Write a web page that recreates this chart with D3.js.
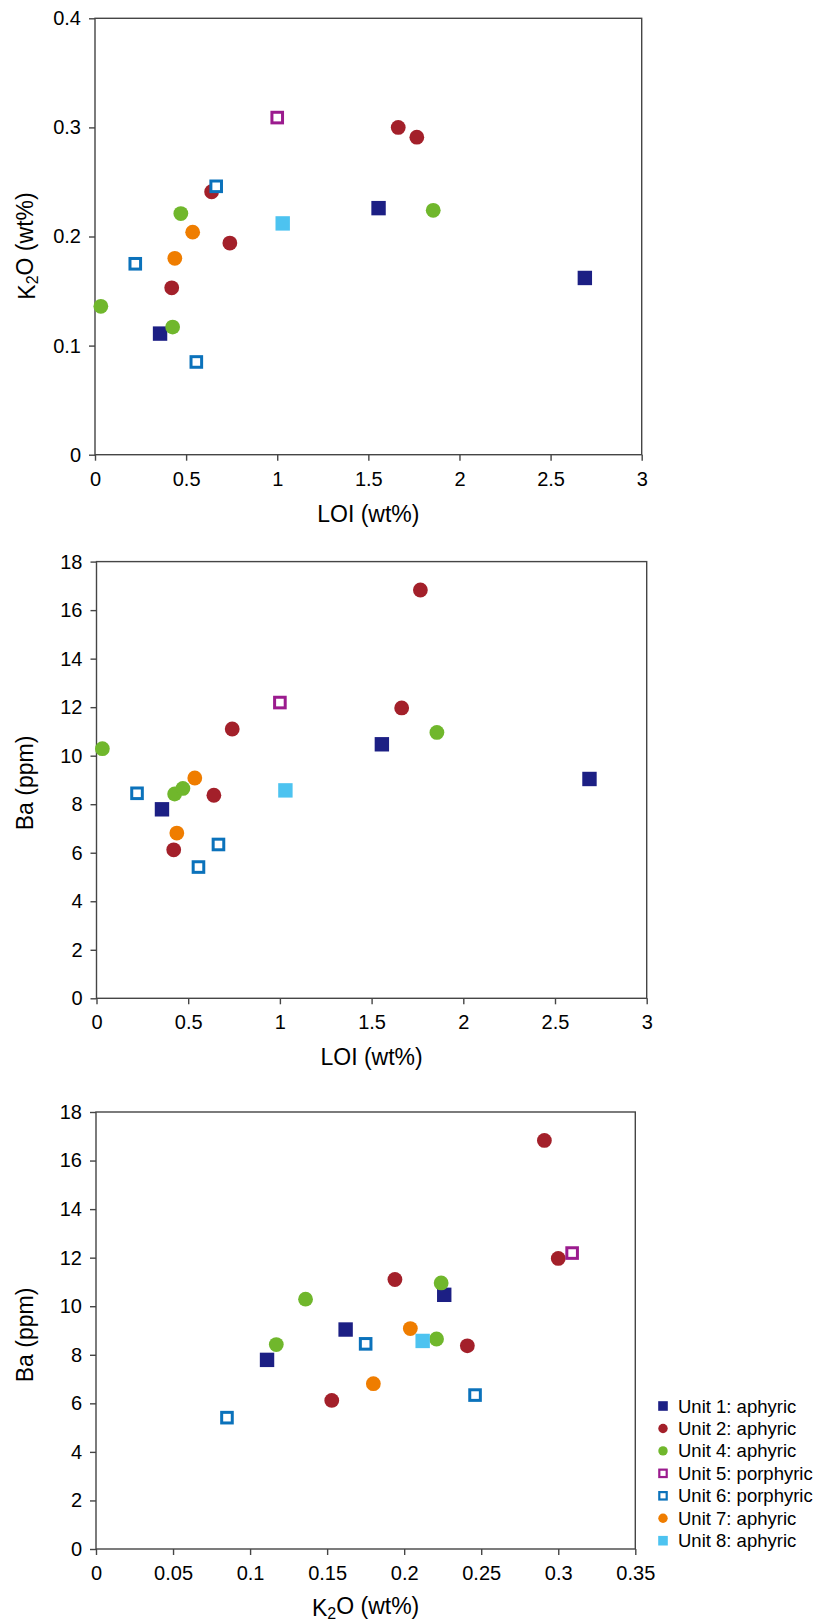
<!DOCTYPE html>
<html>
<head>
<meta charset="utf-8">
<script src="https://cdn.jsdelivr.net/npm/d3@7"></script>
<style>
  body { margin: 0; background: #fff; }
  svg text { font-family: "Liberation Sans", Arial, sans-serif; fill: #000; }
</style>
</head>
<body>
<div id="chart"></div>
<script>
// units (legend order) and how each is drawn
var units = ["Unit 1: aphyric", "Unit 2: aphyric", "Unit 4: aphyric", "Unit 5: porphyric",
             "Unit 6: porphyric", "Unit 7: aphyric", "Unit 8: aphyric"];
var unitColors = ["#1c1f84", "#a3202a", "#70b72c", "#9b1b8e", "#0b72bb", "#ef7d00", "#4dc3f0"];
var unitShapes = ["square", "circle", "circle", "hollow", "hollow", "circle", "square"];

// one entry per sample
var sampleUnit = [0, 0, 0, 1, 1, 1, 1, 1, 2, 2, 2, 2, 3, 4, 4, 4, 5, 5, 6];
var sampleLoi = [0.357, 1.556, 2.688, 0.421, 0.640, 0.740, 1.664, 1.766,
                 0.032, 0.426, 0.471, 1.856, 1.000, 0.221, 0.556, 0.665, 0.438, 0.536, 1.030];
var sampleK2O = [0.111, 0.226, 0.162, 0.153, 0.241, 0.194, 0.300, 0.291,
                 0.136, 0.117, 0.221, 0.224, 0.309, 0.175, 0.085, 0.246, 0.180, 0.204, 0.212];
var sampleBa = [7.79, 10.47, 9.04, 6.12, 8.37, 11.10, 11.97, 16.83,
                10.29, 8.42, 8.65, 10.96, 12.19, 8.45, 5.41, 6.34, 6.81, 9.08, 8.57];

// tick values
var loiTicks = [0, 0.5, 1, 1.5, 2, 2.5, 3];
var k2oTicksLong = [0, 0.1, 0.2, 0.3, 0.4];
var k2oTicksShort = [0, 0.05, 0.1, 0.15, 0.2, 0.25, 0.3, 0.35];
var baTicks = [0, 2, 4, 6, 8, 10, 12, 14, 16, 18];

var svgWidth = 817;
var svgHeight = 1623;
var axisColor = "#454545";

var svg = d3.select("#chart")
  .append("svg")
  .attr("width", svgWidth)
  .attr("height", svgHeight);

var data = sampleUnit.map(function(u, i) {
  return { unit: u, loi: sampleLoi[i], k2o: sampleK2O[i], ba: sampleBa[i] };
});
// later units drawn on top
data.sort(function(a, b) { return a.unit - b.unit; });

function fmt(d) { return String(+d.toFixed(3)); }

// label with a subscript 2 for K2O
function addTitle(sel, label) {
  if (label === "K2O (wt%)") {
    sel.append("tspan").text("K");
    sel.append("tspan").attr("font-size", "16px").attr("dy", "0.3em").text("2");
    sel.append("tspan").attr("dy", "-0.3em").text("O (wt%)");
  } else {
    sel.text(label);
  }
}

function drawPanel(p) {
  var w = p.right - p.left;
  var h = p.bottom - p.top;
  var g = svg.append("g").attr("transform", `translate(${p.left}, ${p.top})`);

  var x = d3.scaleLinear().domain(p.xDomain).range([0, w]);
  var y = d3.scaleLinear().domain(p.yDomain).range([h, 0]);

  var bottomAxis = d3.axisBottom(x).tickValues(p.xTicks).tickFormat(fmt)
    .tickSize(6).tickPadding(11);
  var leftAxis = d3.axisLeft(y).tickValues(p.yTicks).tickFormat(fmt)
    .tickSize(6).tickPadding(8);

  var xg = g.append("g").attr("transform", `translate(0, ${h})`).call(bottomAxis);
  var yg = g.append("g").call(leftAxis);
  [xg, yg].forEach(function(a) {
    a.select(".domain").remove();
    a.selectAll("line").attr("stroke", axisColor).attr("stroke-width", 1.4);
    a.selectAll("text").attr("font-size", "20px").attr("fill", "#000")
      .style("font-family", '"Liberation Sans", Arial, sans-serif');
  });

  g.append("rect")
    .attr("width", w).attr("height", h)
    .attr("fill", "none")
    .attr("stroke", axisColor)
    .attr("stroke-width", 1.4);

  var pts = g.append("g").selectAll("g")
    .data(data)
    .enter()
    .append("g")
    .attr("transform", d => `translate(${x(d[p.xKey])}, ${y(d[p.yKey])})`);

  pts.each(function(d) {
    var s = d3.select(this);
    var shape = unitShapes[d.unit];
    var c = unitColors[d.unit];
    if (shape === "circle") {
      s.append("circle").attr("r", 7.4).attr("fill", c);
    } else if (shape === "square") {
      s.append("rect").attr("x", -7.2).attr("y", -7.2).attr("width", 14.4).attr("height", 14.4).attr("fill", c);
    } else {
      s.append("rect").attr("x", -5.3).attr("y", -5.3).attr("width", 10.6).attr("height", 10.6)
        .attr("fill", "#fff").attr("stroke", c).attr("stroke-width", 3);
    }
  });

  var xt = g.append("text")
    .attr("x", w / 2)
    .attr("y", h + 59)
    .attr("text-anchor", "middle")
    .attr("dominant-baseline", "central")
    .attr("font-size", "23px");
  addTitle(xt, p.xLabel);

  var yt = g.append("text")
    .attr("transform", `translate(${p.yLabelX - p.left}, ${p.yLabelY - p.top}) rotate(-90)`)
    .attr("text-anchor", "middle")
    .attr("dominant-baseline", "central")
    .attr("font-size", "23px");
  addTitle(yt, p.yLabel);
}

drawPanel({ left: 95, right: 641.7, top: 18.3, bottom: 454.7,
  xDomain: [0, 3], yDomain: [0, 0.4], xTicks: loiTicks, yTicks: k2oTicksLong,
  xKey: "loi", yKey: "k2o", xLabel: "LOI (wt%)", yLabel: "K2O (wt%)",
  yLabelX: 27, yLabelY: 246 });

drawPanel({ left: 96.5, right: 646.7, top: 561.6, bottom: 998.3,
  xDomain: [0, 3], yDomain: [0, 18], xTicks: loiTicks, yTicks: baTicks,
  xKey: "loi", yKey: "ba", xLabel: "LOI (wt%)", yLabel: "Ba (ppm)",
  yLabelX: 25, yLabelY: 783 });

drawPanel({ left: 96, right: 635.3, top: 1112, bottom: 1549,
  xDomain: [0, 0.35], yDomain: [0, 18], xTicks: k2oTicksShort, yTicks: baTicks,
  xKey: "k2o", yKey: "ba", xLabel: "K2O (wt%)", yLabel: "Ba (ppm)",
  yLabelX: 25, yLabelY: 1335 });

// legend
var legend = svg.append("g").attr("transform", "translate(663, 1406)");
var rows = legend.selectAll("g")
  .data(units)
  .enter()
  .append("g")
  .attr("transform", (d, i) => `translate(0, ${i * 22.45})`);

rows.each(function(d, i) {
  var s = d3.select(this);
  var c = unitColors[i];
  if (unitShapes[i] === "circle") {
    s.append("circle").attr("r", 4.7).attr("fill", c);
  } else if (unitShapes[i] === "square") {
    s.append("rect").attr("x", -4.8).attr("y", -4.8).attr("width", 9.6).attr("height", 9.6).attr("fill", c);
  } else {
    s.append("rect").attr("x", -3.7).attr("y", -3.7).attr("width", 7.4).attr("height", 7.4)
      .attr("fill", "#fff").attr("stroke", c).attr("stroke-width", 2.2);
  }
  s.append("text")
    .attr("x", 15)
    .attr("dominant-baseline", "central")
    .attr("font-size", "18.5px")
    .text(d);
});
</script>
</body>
</html>
